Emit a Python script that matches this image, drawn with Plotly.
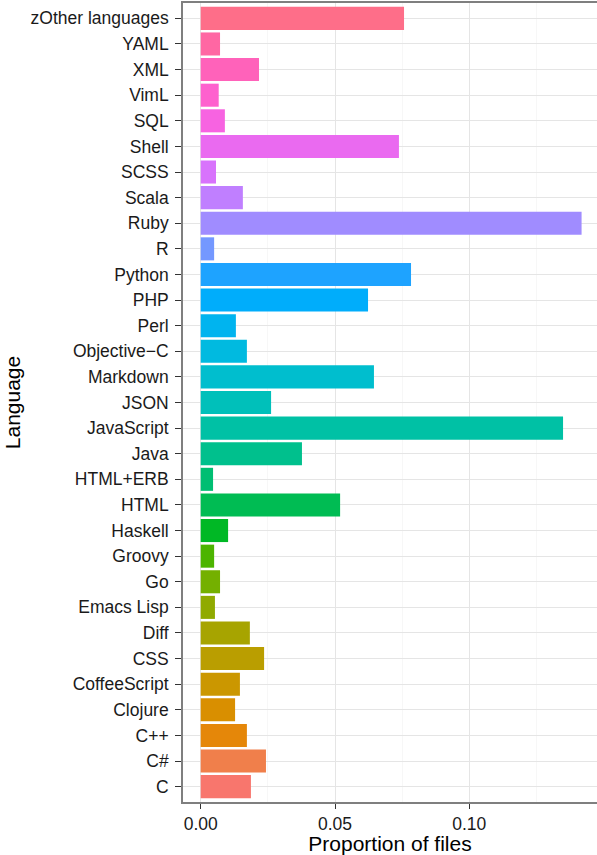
import math
import plotly.graph_objects as go

languages = ["C", "C#", "C++", "Clojure", "CoffeeScript", "CSS", "Diff", "Emacs Lisp",
             "Go", "Groovy", "Haskell", "HTML", "HTML+ERB", "Java", "JavaScript", "JSON",
             "Markdown", "Objective\u2212C", "Perl", "PHP", "Python", "R", "Ruby", "Scala",
             "SCSS", "Shell", "SQL", "VimL", "XML", "YAML", "zOther languages"]
proportions = [0.0187, 0.0243, 0.0172, 0.0128, 0.0146, 0.0236, 0.0183, 0.0053,
               0.0072, 0.0050, 0.0102, 0.0519, 0.0046, 0.0377, 0.1349, 0.0262,
               0.0645, 0.0172, 0.0131, 0.0623, 0.0783, 0.0050, 0.1418, 0.0157,
               0.0057, 0.0738, 0.0090, 0.0067, 0.0217, 0.0072, 0.0757]
x_ticks = [0.0, 0.05, 0.10]
x_tick_labels = ["0.00", "0.05", "0.10"]


def hcl_hex(h, c=100.0, l=65.0):
    # CIE-LCh(uv) -> sRGB, as in R's hcl()
    hr = math.radians(h)
    u = c * math.cos(hr)
    v = c * math.sin(hr)
    Xn, Yn, Zn = 95.047, 100.0, 108.883
    Y = Yn * (((l + 16) / 116) ** 3 if l > 8 else l / 903.3)
    den = Xn + 15 * Yn + 3 * Zn
    un, vn = 4 * Xn / den, 9 * Yn / den
    up = u / (13 * l) + un
    vp = v / (13 * l) + vn
    X = 9.0 * Y * up / (4 * vp)
    Z = -X / 3 - 5 * Y + 3 * Y / vp
    X, Y, Z = X / 100, Y / 100, Z / 100
    r = 3.240479 * X - 1.537150 * Y - 0.498535 * Z
    g = -0.969256 * X + 1.875992 * Y + 0.041556 * Z
    b = 0.055648 * X - 0.204043 * Y + 1.057311 * Z

    def gam(t):
        t = 1.055 * t ** (1 / 2.4) - 0.055 if t > 0.00304 else 12.92 * t
        return max(0, min(255, round(255 * t)))
    return "#%02X%02X%02X" % (gam(r), gam(g), gam(b))


n = len(languages)
colors = [hcl_hex(15 + i * 360.0 / n) for i in range(n)]

fig = go.Figure(go.Bar(
    x=proportions, y=languages, orientation="h",
    marker=dict(color=colors, line=dict(width=0)),
    width=0.9, showlegend=False,
))

font_family = "Liberation Sans, Arial, Helvetica, sans-serif"
fig.update_layout(
    width=597, height=855,
    margin=dict(l=183, r=0, t=3, b=53),
    paper_bgcolor="white", plot_bgcolor="white",
    font=dict(family=font_family, color="black"),
    bargap=0.1,
)
fig.update_xaxes(
    automargin=False,
    range=[-0.00659, 0.14754],
    tickmode="array", tickvals=x_ticks, ticktext=x_tick_labels,
    tickfont=dict(size=17.5, color="#1A1A1A"),
    ticks="outside", ticklen=5, tickwidth=1.3, tickcolor="#333333",
    showgrid=True, gridcolor="#E5E5E5", gridwidth=1,
    minor=dict(tickmode="array", tickvals=[0.025, 0.075, 0.125],
               showgrid=True, gridcolor="#F7F7F7", gridwidth=1, ticks=""),
    showline=True, linecolor="#7F7F7F", linewidth=1.6, mirror=True,
    zeroline=False,
    title=dict(text="Proportion of files", font=dict(size=21, color="black"), standoff=2),
)
fig.update_yaxes(
    automargin=False,
    type="category", categoryorder="array", categoryarray=languages,
    range=[-0.6, n - 0.4],
    tickfont=dict(size=17.5, color="#1A1A1A"),
    ticks="outside", ticklen=6, tickwidth=1.3, tickcolor="#333333",
    ticklabelstandoff=3,
    showgrid=True, gridcolor="#E5E5E5", gridwidth=1,
    showline=True, linecolor="#7F7F7F", linewidth=1.6, mirror=True,
    zeroline=False,
    title=dict(text="Language", font=dict(size=21, color="black"), standoff=4),
)

fig.write_html("out.html",
               config={"displayModeBar": False},
               post_script="document.body.style.margin='0';document.body.style.overflow='hidden';")
